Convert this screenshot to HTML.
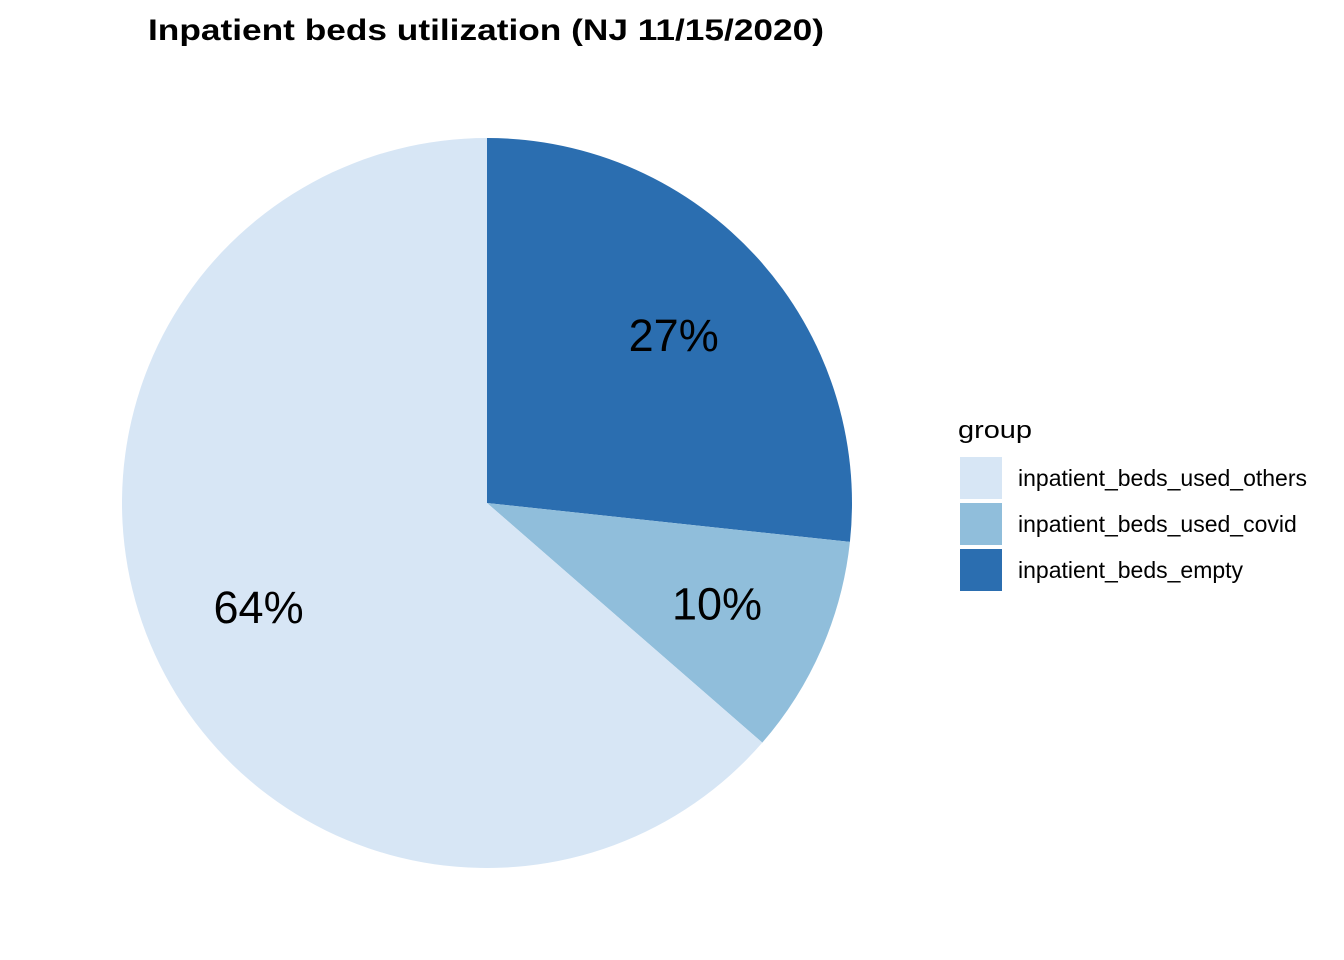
<!DOCTYPE html>
<html><head><meta charset="utf-8"><style>
body{margin:0;background:#fff;}
svg{display:block;font-family:"Liberation Sans",Arial,sans-serif;}
</style></head><body>
<svg id="chart" width="1344" height="960">
<text x="148" y="40" font-size="30" font-weight="bold" fill="#000" textLength="676" lengthAdjust="spacingAndGlyphs">Inpatient beds utilization (NJ 11/15/2020)</text>
<g id="slices"></g>
<g id="labels"></g>
<g id="legend">
<text x="958" y="438" font-size="24" fill="#000" textLength="74" lengthAdjust="spacingAndGlyphs">group</text>
</g>
</svg>
<script>
const categories = ["inpatient_beds_empty","inpatient_beds_used_covid","inpatient_beds_used_others"];
const values = [26.7, 9.7, 63.6];
const colors = ["#2b6eb0","#90bedb","#d7e6f5"];
const legendOrder = ["inpatient_beds_used_others","inpatient_beds_used_covid","inpatient_beds_empty"];
const NS="http://www.w3.org/2000/svg";
const cx=487, cy=503, R=365, LR=251;
const total=values.reduce((a,b)=>a+b,0);
function pt(a,r){return [cx+r*Math.sin(a), cy-r*Math.cos(a)];}
let acc=0;
const gS=document.getElementById('slices'), gL=document.getElementById('labels');
values.forEach((v,i)=>{
  const a0=acc/total*2*Math.PI; acc+=v; const a1=acc/total*2*Math.PI;
  const p0=pt(a0,R), p1=pt(a1,R);
  const large=(a1-a0)>Math.PI?1:0;
  const p=document.createElementNS(NS,'path');
  p.setAttribute('d',`M${cx},${cy} L${p0[0]},${p0[1]} A${R},${R} 0 ${large} 1 ${p1[0]},${p1[1]} Z`);
  p.setAttribute('fill',colors[i]);
  
  
  gS.appendChild(p);
  const m=pt((a0+a1)/2,LR);
  const t=document.createElementNS(NS,'text');
  t.setAttribute('x',m[0]); t.setAttribute('y',m[1]+16);
  t.setAttribute('text-anchor','middle'); t.setAttribute('font-size','45');
  t.textContent=Math.round(v/total*100)+'%';
  
  
  gL.appendChild(t);
});
const gLg=document.getElementById('legend');
legendOrder.forEach((c,j)=>{
  const i=categories.indexOf(c);
  const r=document.createElementNS(NS,'rect');
  r.setAttribute('x',960); r.setAttribute('y',457+j*46); r.setAttribute('width',42); r.setAttribute('height',42);
  r.setAttribute('fill',colors[i]);
  
  
  gLg.appendChild(r);
  const t=document.createElementNS(NS,'text');
  t.setAttribute('x',1018); t.setAttribute('y',486+j*46); t.setAttribute('font-size','23');
  t.textContent=c;
  
  
  gLg.appendChild(t);
});
</script>
</body></html>
